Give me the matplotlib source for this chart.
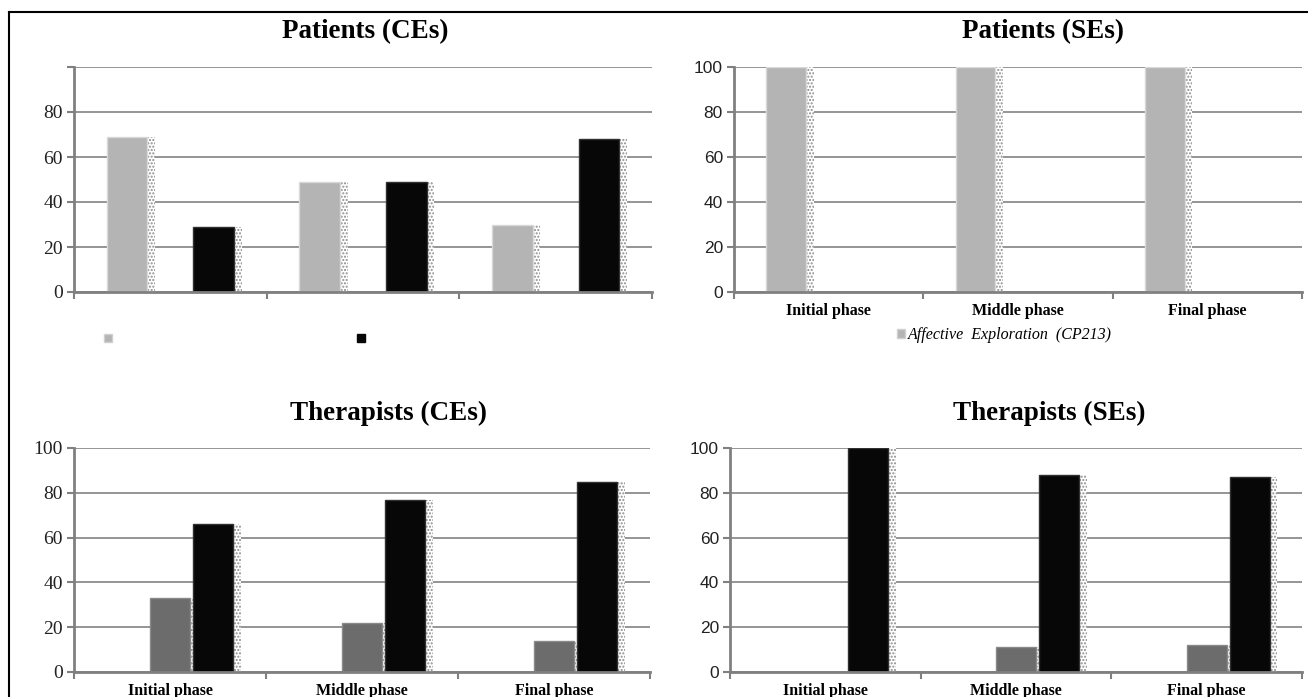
import matplotlib
matplotlib.use('Agg')
import matplotlib.pyplot as plt
from matplotlib.patches import Patch
from matplotlib.lines import Line2D
import numpy as np

# data
phases = ['Initial phase', 'Middle phase', 'Final phase']
pat_ce_light = [69, 49, 30]
pat_ce_black = [29, 49, 68]
pat_se_light = [100, 100, 100]
ther_ce_gray = [33, 22, 14]
ther_ce_black = [66, 77, 85]
ther_se_gray = [0, 11, 12]
ther_se_black = [100, 88, 87]
se_legend = 'Affective  Exploration  (CP213)'

LIGHT = '#b4b4b4'
GRAY = '#6c6c6c'
BLACK = '#070707'
AXC = '#808080'
SERIF = 'Liberation Serif'
SANS = 'Liberation Sans'

BW = 0.21
OFF = {'light': -0.225, 'gray': 0.0, 'black': 0.225}

fig = plt.figure(figsize=(13.08, 6.97), dpi=100)


def bars(ax, values, which, color, edge):
    x = np.arange(len(values)) + OFF[which]
    vals = np.array(values, dtype=float)
    ax.bar(x, vals, width=BW, color=color, edgecolor=edge, linewidth=1.0, zorder=3)
    # dotted "3d" side of each bar
    side = np.where(vals > 0, vals, 0)
    ax.bar(x + BW / 2 + 0.02, side, width=0.04, color='white', edgecolor='#8a8a8a',
           hatch='.....', linewidth=0, zorder=2)


def setup(ax, serif_ticks, show_100=True, xlabels=True):
    ax.set_xlim(-0.5, 2.5)
    ax.set_ylim(0, 100)
    ticks = [0, 20, 40, 60, 80, 100]
    ax.set_yticks(ticks)
    ax.set_yticklabels([str(t) if (t != 100 or show_100) else '' for t in ticks])
    ax.set_xticks(np.arange(3))
    ax.set_xticklabels(phases if xlabels else ['', '', ''])
    ax.set_xticks([-0.5, 0.5, 1.5, 2.5], minor=True)
    ax.tick_params(axis='x', which='major', length=0, pad=8)
    ax.tick_params(axis='x', which='minor', length=5, color=AXC, width=1.5, direction='out')
    ax.tick_params(axis='y', length=5, color=AXC, width=1.5, pad=3, labelcolor='#222222')
    for lab in ax.get_xticklabels():
        lab.set_fontfamily(SERIF)
        lab.set_fontweight('bold')
        lab.set_fontsize(11.5)
    for lab in ax.get_yticklabels():
        if serif_ticks:
            lab.set_fontfamily(SERIF)
            lab.set_fontsize(14)
        else:
            lab.set_fontfamily(SANS)
            lab.set_fontsize(12.5)
    for s in ['top', 'right']:
        ax.spines[s].set_visible(False)
    for s in ['left', 'bottom']:
        ax.spines[s].set_color(AXC)
        ax.spines[s].set_linewidth(2)
        ax.spines[s].set_zorder(4)
    ax.grid(axis='y', color='#8c8c8c', linewidth=1.3, zorder=1)
    ax.set_axisbelow(True)


W, H = 1308.0, 697.0


def box(l, t, r, b):
    return [l / W, 1 - b / H, (r - l) / W, (b - t) / H]


ax1 = fig.add_axes(box(74, 67, 652, 292))
ax2 = fig.add_axes(box(734, 67, 1302, 292))
ax3 = fig.add_axes(box(74, 448, 650, 672))
ax4 = fig.add_axes(box(730, 448, 1302, 672))

bars(ax1, pat_ce_light, 'light', LIGHT, '#d8d8d8')
bars(ax1, pat_ce_black, 'black', BLACK, '#303030')
setup(ax1, True, show_100=False, xlabels=False)

bars(ax2, pat_se_light, 'light', LIGHT, '#d8d8d8')
setup(ax2, False)

bars(ax3, ther_ce_gray, 'gray', GRAY, '#8a8a8a')
bars(ax3, ther_ce_black, 'black', BLACK, '#303030')
setup(ax3, True)

bars(ax4, ther_se_gray, 'gray', GRAY, '#8a8a8a')
bars(ax4, ther_se_black, 'black', BLACK, '#303030')
setup(ax4, False)

# titles
tkw = dict(fontfamily=SERIF, fontweight='bold', fontsize=19.5, ha='center', va='center')
fig.text(365 / W, 1 - 32 / H, 'Patients (CEs)', **tkw)
fig.text(1043 / W, 1 - 32 / H, 'Patients (SEs)', **tkw)
fig.text(389 / W, 1 - 413 / H, 'Therapists (CEs)', **tkw)
fig.text(1049 / W, 1 - 413 / H, 'Therapists (SEs)', **tkw)

# legends
h1 = [Patch(facecolor=LIGHT, edgecolor='#d0d0d0'), Patch(facecolor=BLACK, edgecolor=BLACK)]
fig.legend(h1, ['', ''], ncol=2, loc='center left', bbox_to_anchor=(104 / W, 1 - 339 / H),
           frameon=False, handlelength=0.55, handleheight=0.55, handletextpad=0,
           columnspacing=17.7, borderpad=0, borderaxespad=0, prop={'size': 10})
h2 = [Patch(facecolor=LIGHT, edgecolor='#d0d0d0')]
fig.legend(h2, [se_legend], loc='center left', bbox_to_anchor=(897 / W, 1 - 335 / H),
           frameon=False, handlelength=0.5, handleheight=0.5, handletextpad=0.15,
           borderpad=0, borderaxespad=0,
           prop={'family': SERIF, 'style': 'italic', 'size': 11.5})

# outer frame (left and top edges visible)
fig.add_artist(Line2D([9 / W, 9 / W], [0, 1 - 12 / H], color='black', linewidth=1.5))
fig.add_artist(Line2D([9 / W, 1], [1 - 12 / H, 1 - 12 / H], color='black', linewidth=1.5))

fig.savefig('out.png', dpi=100)
